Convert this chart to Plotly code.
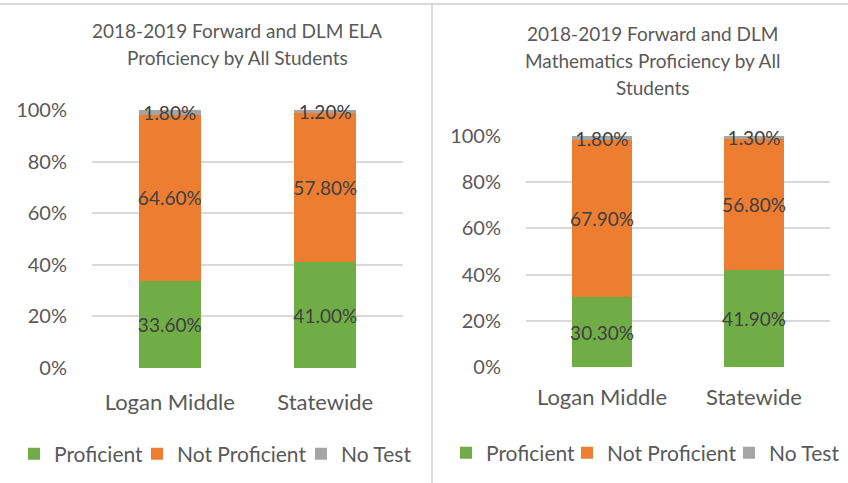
import plotly.graph_objects as go

categories = ["Logan Middle", "Statewide"]
series_names = ["Proficient", "Not Proficient", "No Test"]
ela_proficient = [0.336, 0.410]
ela_not_proficient = [0.646, 0.578]
ela_no_test = [0.018, 0.012]
math_proficient = [0.303, 0.419]
math_not_proficient = [0.679, 0.568]
math_no_test = [0.018, 0.013]
y_ticks = [0, 0.2, 0.4, 0.6, 0.8, 1.0]
title_ela_lines = ["2018-2019 Forward and DLM ELA", "Proficiency by All Students"]
title_math_lines = ["2018-2019 Forward and DLM", "Mathematics Proficiency by All", "Students"]

colors = ["#70AD47", "#ED7D31", "#A5A5A5"]
FONT = "Lato"
W, H = 848, 483

def px_x(p):
    return p / W

def px_y(p):
    return 1 - p / H

# legend text start positions (px) per panel / series
legend_text_x = [[54, 177, 341], [486, 607, 769]]
legend_y = [454, 453]
TEXT_GAP = 40

fig = go.Figure()
panels = [
    ("x", "y", [ela_proficient, ela_not_proficient, ela_no_test]),
    ("x2", "y2", [math_proficient, math_not_proficient, math_no_test]),
]
legend_layouts = {}
k = 0
for p, (xa, ya, vals) in enumerate(panels):
    for s, (name, v, c) in enumerate(zip(series_names, vals, colors)):
        k += 1
        lg = "legend" if k == 1 else f"legend{k}"
        fig.add_trace(go.Bar(
            x=categories, y=v, name=name, xaxis=xa, yaxis=ya, legend=lg,
            marker=dict(color=c, line=dict(width=0)),
            width=0.4,
            texttemplate="%{y:.2%}", textposition="inside", insidetextanchor="middle",
            textangle=0,
            textfont=dict(family=FONT, size=19, color="#404040"),
            constraintext="none", cliponaxis=False,
            hoverinfo="skip",
        ))
        legend_layouts[lg] = dict(
            orientation="h", xanchor="left", yanchor="middle",
            x=px_x(legend_text_x[p][s] - TEXT_GAP), y=px_y(legend_y[p]),
            font=dict(family=FONT, size=21, color="#595959"), bgcolor="rgba(0,0,0,0)",
            itemclick=False, itemdoubleclick=False, itemwidth=30, borderwidth=0,
        )

axis_common = dict(showgrid=False, showline=False, zeroline=False, ticks="",
                   tickfont=dict(family=FONT, size=22, color="#595959"))
yaxis_common = dict(range=[0, 1], tickvals=y_ticks, tickformat=".0%", showgrid=True,
                    gridcolor="#D9D9D9", gridwidth=1.5, zeroline=False, showline=False,
                    ticks="", ticklabelstandoff=24,
                    tickfont=dict(family=FONT, size=20, color="#595959"))

annotations = []
for t, yp in zip(title_ela_lines, [30, 57]):
    annotations.append(dict(text=t, x=px_x(237), y=px_y(yp), xref="paper", yref="paper",
                            xanchor="center", yanchor="middle", showarrow=False,
                            font=dict(family=FONT, size=19, color="#595959")))
for t, yp in zip(title_math_lines, [33, 60, 87]):
    annotations.append(dict(text=t, x=px_x(652), y=px_y(yp), xref="paper", yref="paper",
                            xanchor="center", yanchor="middle", showarrow=False,
                            font=dict(family=FONT, size=19, color="#595959")))

fig.update_layout(
    width=W, height=H,
    margin=dict(l=0, r=0, t=0, b=0, autoexpand=False),
    paper_bgcolor="white", plot_bgcolor="white",
    barmode="stack",
    uniformtext=dict(mode="show", minsize=19),
    xaxis=dict(domain=[px_x(92), px_x(403)], anchor="y", range=[-0.5, 1.5],
               ticklabelstandoff=19, **axis_common),
    yaxis=dict(domain=[px_y(368), px_y(110)], anchor="x", **yaxis_common),
    xaxis2=dict(domain=[px_x(526), px_x(830)], anchor="y2", range=[-0.5, 1.5],
                ticklabelstandoff=15, **axis_common),
    yaxis2=dict(domain=[px_y(367), px_y(136)], anchor="x2", **yaxis_common),
    annotations=annotations,
    shapes=[
        dict(type="line", xref="paper", yref="paper", x0=0, x1=1, y0=px_y(4), y1=px_y(4),
             line=dict(color="#D9D9D9", width=2)),
        dict(type="line", xref="paper", yref="paper", x0=px_x(432), x1=px_x(432), y0=0, y1=px_y(5),
             line=dict(color="#D9D9D9", width=2)),
    ],
    showlegend=True,
    **legend_layouts,
)

fig.write_html("out.html", config={"displayModeBar": False},
               post_script="document.body.style.margin='0px';")
